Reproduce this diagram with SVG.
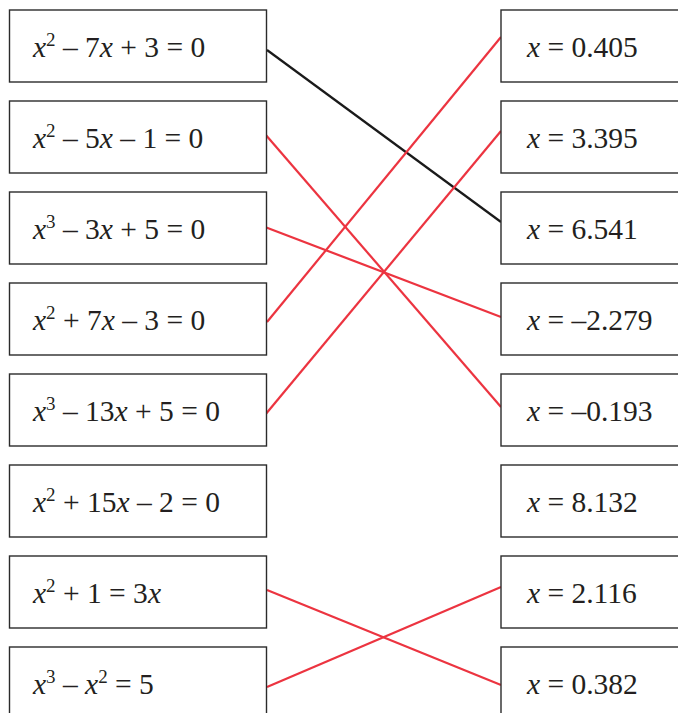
<svg xmlns="http://www.w3.org/2000/svg" width="678" height="713" viewBox="0 0 678 713">
<defs>
<style>
rect{fill:#fff;stroke:#2b2b2b;stroke-width:1.4}
.c line{stroke-width:2.2}
.r{stroke:#ec3440}
.k{stroke:#1a1a1a}
</style>
</defs>
<rect x="0" y="0" width="678" height="713" style="fill:#fff;stroke:none"/>
<g id="connectors" class="c">
<line class="k" x1="267" y1="50" x2="501" y2="222"/>
<line class="r" x1="265" y1="134" x2="501" y2="407"/>
<line class="r" x1="265" y1="227" x2="501" y2="317"/>
<line class="r" x1="267" y1="322" x2="501" y2="37"/>
<line class="r" x1="265" y1="415" x2="501" y2="131"/>
<line class="r" x1="267" y1="590" x2="501" y2="685"/>
<line class="r" x1="267" y1="687" x2="501" y2="587"/>
</g>
<g font-family="Liberation Serif" font-size="29.5" fill="#231f20">
<g id="L1"><rect x="9.5" y="10" width="257" height="72"/><text x="33" y="57"><tspan font-style="italic">x</tspan><tspan font-size="19" dy="-11">2</tspan><tspan dy="11"> – 7</tspan><tspan font-style="italic">x</tspan> + 3 = 0</text></g>
<g id="L2"><rect x="9.5" y="101" width="257" height="72"/><text x="33" y="148"><tspan font-style="italic">x</tspan><tspan font-size="19" dy="-11">2</tspan><tspan dy="11"> – 5</tspan><tspan font-style="italic">x</tspan> – 1 = 0</text></g>
<g id="L3"><rect x="9.5" y="192" width="257" height="72"/><text x="33" y="239"><tspan font-style="italic">x</tspan><tspan font-size="19" dy="-11">3</tspan><tspan dy="11"> – 3</tspan><tspan font-style="italic">x</tspan> + 5 = 0</text></g>
<g id="L4"><rect x="9.5" y="283" width="257" height="72"/><text x="33" y="330"><tspan font-style="italic">x</tspan><tspan font-size="19" dy="-11">2</tspan><tspan dy="11"> + 7</tspan><tspan font-style="italic">x</tspan> – 3 = 0</text></g>
<g id="L5"><rect x="9.5" y="374" width="257" height="72"/><text x="33" y="421"><tspan font-style="italic">x</tspan><tspan font-size="19" dy="-11">3</tspan><tspan dy="11"> – 13</tspan><tspan font-style="italic">x</tspan> + 5 = 0</text></g>
<g id="L6"><rect x="9.5" y="465" width="257" height="72"/><text x="33" y="512"><tspan font-style="italic">x</tspan><tspan font-size="19" dy="-11">2</tspan><tspan dy="11"> + 15</tspan><tspan font-style="italic">x</tspan> – 2 = 0</text></g>
<g id="L7"><rect x="9.5" y="556" width="257" height="72"/><text x="33" y="603"><tspan font-style="italic">x</tspan><tspan font-size="19" dy="-11">2</tspan><tspan dy="11"> + 1 = 3</tspan><tspan font-style="italic">x</tspan></text></g>
<g id="L8"><rect x="9.5" y="647" width="257" height="72"/><text x="33" y="694"><tspan font-style="italic">x</tspan><tspan font-size="19" dy="-11">3</tspan><tspan dy="11"> – </tspan><tspan font-style="italic">x</tspan><tspan font-size="19" dy="-11">2</tspan><tspan dy="11"> = 5</tspan></text></g>
<g id="R1"><rect x="501" y="10" width="180" height="72"/><text x="527" y="57"><tspan font-style="italic">x</tspan> = 0.405</text></g>
<g id="R2"><rect x="501" y="101" width="180" height="72"/><text x="527" y="148"><tspan font-style="italic">x</tspan> = 3.395</text></g>
<g id="R3"><rect x="501" y="192" width="180" height="72"/><text x="527" y="239"><tspan font-style="italic">x</tspan> = 6.541</text></g>
<g id="R4"><rect x="501" y="283" width="180" height="72"/><text x="527" y="330"><tspan font-style="italic">x</tspan> = –2.279</text></g>
<g id="R5"><rect x="501" y="374" width="180" height="72"/><text x="527" y="421"><tspan font-style="italic">x</tspan> = –0.193</text></g>
<g id="R6"><rect x="501" y="465" width="180" height="72"/><text x="527" y="512"><tspan font-style="italic">x</tspan> = 8.132</text></g>
<g id="R7"><rect x="501" y="556" width="180" height="72"/><text x="527" y="603"><tspan font-style="italic">x</tspan> = 2.116</text></g>
<g id="R8"><rect x="501" y="647" width="180" height="72"/><text x="527" y="694"><tspan font-style="italic">x</tspan> = 0.382</text></g>
</g>
</svg>
